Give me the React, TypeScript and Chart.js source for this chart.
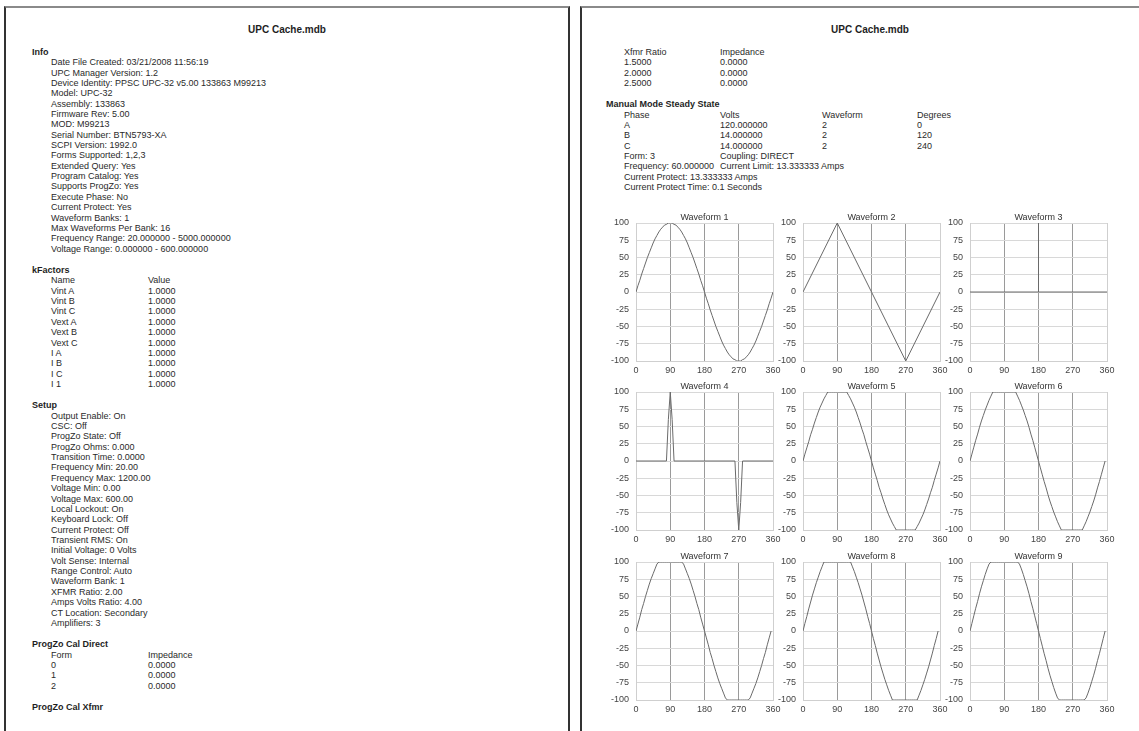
import React, { useEffect, useRef } from "react";
import { Chart, registerables } from "chart.js";
Chart.register(...registerables);

const FONT = "'Liberation Sans', Arial, sans-serif";

// ---------- Report text ----------
const INFO_ITEMS = [
  "Date File Created: 03/21/2008 11:56:19",
  "UPC Manager Version: 1.2",
  "Device Identity: PPSC UPC-32 v5.00 133863 M99213",
  "Model: UPC-32",
  "Assembly: 133863",
  "Firmware Rev: 5.00",
  "MOD: M99213",
  "Serial Number: BTN5793-XA",
  "SCPI Version: 1992.0",
  "Forms Supported: 1,2,3",
  "Extended Query: Yes",
  "Program Catalog: Yes",
  "Supports ProgZo: Yes",
  "Execute Phase: No",
  "Current Protect: Yes",
  "Waveform Banks: 1",
  "Max Waveforms Per Bank: 16",
  "Frequency Range: 20.000000 - 5000.000000",
  "Voltage Range: 0.000000 - 600.000000",
];
const KFACTOR_NAMES = ["Vint A", "Vint B", "Vint C", "Vext A", "Vext B", "Vext C", "I A", "I B", "I C", "I 1"];
const KFACTOR_VALUES = ["1.0000", "1.0000", "1.0000", "1.0000", "1.0000", "1.0000", "1.0000", "1.0000", "1.0000", "1.0000"];
const SETUP_ITEMS = [
  "Output Enable: On",
  "CSC: Off",
  "ProgZo State: Off",
  "ProgZo Ohms: 0.000",
  "Transition Time: 0.0000",
  "Frequency Min: 20.00",
  "Frequency Max: 1200.00",
  "Voltage Min: 0.00",
  "Voltage Max: 600.00",
  "Local Lockout: On",
  "Keyboard Lock: Off",
  "Current Protect: Off",
  "Transient RMS: On",
  "Initial Voltage: 0 Volts",
  "Volt Sense: Internal",
  "Range Control: Auto",
  "Waveform Bank: 1",
  "XFMR Ratio: 2.00",
  "Amps Volts Ratio: 4.00",
  "CT Location: Secondary",
  "Amplifiers: 3",
];
const PROGZO_FORMS = ["0", "1", "2"];
const PROGZO_IMPEDANCE = ["0.0000", "0.0000", "0.0000"];
const XFMR_RATIOS = ["1.5000", "2.0000", "2.5000"];
const XFMR_IMPEDANCE = ["0.0000", "0.0000", "0.0000"];
const PHASES = ["A", "B", "C"];
const PHASE_VOLTS = ["120.000000", "14.000000", "14.000000"];
const PHASE_WAVEFORMS = ["2", "2", "2"];
const PHASE_DEGREES = ["0", "120", "240"];

// ---------- Waveform data (degrees / percent) ----------
const DEG_5 = [0, 5, 10, 15, 20, 25, 30, 35, 40, 45, 50, 55, 60, 65, 70, 75, 80, 85, 90,
  95, 100, 105, 110, 115, 120, 125, 130, 135, 140, 145, 150, 155, 160, 165, 170, 175, 180,
  185, 190, 195, 200, 205, 210, 215, 220, 225, 230, 235, 240, 245, 250, 255, 260, 265, 270,
  275, 280, 285, 290, 295, 300, 305, 310, 315, 320, 325, 330, 335, 340, 345, 350, 355, 360];

const WAVE_1 = [0, 9, 17, 26, 34, 42, 50, 57, 64, 71, 77, 82, 87, 91, 94, 97, 98, 100, 100,
  100, 98, 97, 94, 91, 87, 82, 77, 71, 64, 57, 50, 42, 34, 26, 17, 9, 0,
  -9, -17, -26, -34, -42, -50, -57, -64, -71, -77, -82, -87, -91, -94, -97, -98, -100, -100,
  -100, -98, -97, -94, -91, -87, -82, -77, -71, -64, -57, -50, -42, -34, -26, -17, -9, 0];

const DEG_2 = [0, 90, 270, 360];
const WAVE_2 = [0, 100, -100, 0];

const DEG_3 = [0, 180, 180, 180, 360];
const WAVE_3 = [0, 0, 100, 0, 0];

const DEG_4 = [0, 80, 85, 90, 95, 100, 260, 265, 270, 275, 280, 360];
const WAVE_4 = [0, 0, 60, 100, 60, 0, 0, -60, -100, -60, 0, 0];

const WAVE_5 = [0, 10, 19, 28, 38, 46, 55, 63, 71, 78, 84, 90, 95, 100, 100, 100, 100, 100, 100,
  100, 100, 100, 100, 100, 95, 90, 84, 78, 71, 63, 55, 46, 38, 28, 19, 10, 0,
  -10, -19, -28, -38, -46, -55, -63, -71, -78, -84, -90, -95, -100, -100, -100, -100, -100, -100,
  -100, -100, -100, -100, -100, -95, -90, -84, -78, -71, -63, -55, -46, -38, -28, -19, -10, 0];

const WAVE_6 = [0, 10, 20, 30, 39, 49, 58, 66, 74, 81, 88, 94, 100, 100, 100, 100, 100, 100, 100,
  100, 100, 100, 100, 100, 100, 94, 88, 81, 74, 66, 58, 49, 39, 30, 20, 10, 0,
  -10, -20, -30, -39, -49, -58, -66, -74, -81, -88, -94, -100, -100, -100, -100, -100, -100,
  -100, -100, -100, -100, -100, -100, -94, -88, -81, -74, -66, -58, -49, -39, -30, -20, -10, 0];

const WAVE_7 = [0, 10, 20, 31, 40, 50, 59, 68, 76, 83, 90, 97, 100, 100, 100, 100, 100, 100, 100,
  100, 100, 100, 100, 100, 100, 97, 90, 83, 76, 68, 59, 50, 40, 31, 20, 10, 0,
  -10, -20, -31, -40, -50, -59, -68, -76, -83, -90, -97, -100, -100, -100, -100, -100, -100,
  -100, -100, -100, -100, -100, -100, -97, -90, -83, -76, -68, -59, -50, -40, -31, -20, -10, 0];

const WAVE_8 = [0, 11, 21, 32, 42, 52, 61, 70, 78, 86, 93, 100, 100, 100, 100, 100, 100, 100, 100,
  100, 100, 100, 100, 100, 100, 100, 93, 86, 78, 70, 61, 52, 42, 32, 21, 11, 0,
  -11, -21, -32, -42, -52, -61, -70, -78, -86, -93, -100, -100, -100, -100, -100, -100, -100,
  -100, -100, -100, -100, -100, -100, -100, -93, -86, -78, -70, -61, -52, -42, -32, -21, -11, 0];

const WAVE_9 = [0, 11, 22, 33, 43, 54, 64, 73, 82, 90, 97, 100, 100, 100, 100, 100, 100, 100, 100,
  100, 100, 100, 100, 100, 100, 100, 97, 90, 82, 73, 64, 54, 43, 33, 22, 11, 0,
  -11, -22, -33, -43, -54, -64, -73, -82, -90, -97, -100, -100, -100, -100, -100, -100, -100,
  -100, -100, -100, -100, -100, -100, -100, -97, -90, -82, -73, -64, -54, -43, -33, -22, -11, 0];

const WAVE_TITLES = ["Waveform 1", "Waveform 2", "Waveform 3", "Waveform 4", "Waveform 5",
  "Waveform 6", "Waveform 7", "Waveform 8", "Waveform 9"];
const WAVE_X = [DEG_5, DEG_2, DEG_3, DEG_4, DEG_5, DEG_5, DEG_5, DEG_5, DEG_5];
const WAVE_Y = [WAVE_1, WAVE_2, WAVE_3, WAVE_4, WAVE_5, WAVE_6, WAVE_7, WAVE_8, WAVE_9];
const X_TICKS = [0, 90, 180, 270, 360];
const Y_TICKS = [-100, -75, -50, -25, 0, 25, 50, 75, 100];

// ---------- Layout ----------
const CHART_COLS = [636, 803, 970];
const CHART_ROWS = [223, 392, 562];
const PLOT_W = 137;
const PLOT_H = 138;
const Y_AXIS_W = 30;
const TITLE_H = 13;
const X_AXIS_H = 16;
const PAD_R = 12;
const CANVAS_W = Y_AXIS_W + PLOT_W + PAD_R;
const CANVAS_H = TITLE_H + PLOT_H + X_AXIS_H;

const LH = 10.37;
const GAP = 11;
const TEXT_COLOR = "#2a2a2a";

function WaveChart(props: { title: string; xs: number[]; ys: number[]; left: number; top: number }) {
  const ref = useRef<HTMLCanvasElement>(null);
  useEffect(() => {
    const tickFont = { size: 9, family: FONT };
    const chart = new Chart(ref.current as HTMLCanvasElement, {
      type: "line",
      data: {
        datasets: [
          {
            data: props.xs.map((x, i) => ({ x, y: props.ys[i] })),
            borderColor: "#6a6a6a",
            borderWidth: 1,
            pointRadius: 0,
            fill: false,
            tension: 0,
          },
        ],
      },
      options: {
        animation: false,
        responsive: false,
        devicePixelRatio: 1,
        layout: { padding: { top: 0, left: 0, right: PAD_R, bottom: 0 } },
        plugins: {
          legend: { display: false },
          tooltip: { enabled: false },
          title: {
            display: true,
            text: props.title,
            fullSize: false,
            color: "#333",
            font: { size: 9, family: FONT, weight: "normal", lineHeight: "10px" },
            padding: { top: 3, bottom: 0 },
          },
        },
        scales: {
          x: {
            type: "linear",
            min: X_TICKS[0],
            max: X_TICKS[X_TICKS.length - 1],
            afterBuildTicks: (s: any) => {
              s.ticks = X_TICKS.map((v) => ({ value: v }));
            },
            ticks: { color: "#444", font: tickFont, padding: 4, maxRotation: 0, autoSkip: false },
            grid: {
              color: (c: any) =>
                c.tick && (c.tick.value === 0 || c.tick.value === 360) ? "#cfcfcf" : "#9a9a9a",
              drawTicks: false,
            },
            border: { color: "#cfcfcf" },
            afterFit: (s: any) => {
              s.height = X_AXIS_H;
            },
          },
          y: {
            type: "linear",
            min: Y_TICKS[0],
            max: Y_TICKS[Y_TICKS.length - 1],
            afterBuildTicks: (s: any) => {
              s.ticks = Y_TICKS.map((v) => ({ value: v }));
            },
            ticks: { color: "#444", font: tickFont, padding: 7, autoSkip: false },
            grid: { color: "#d8d8d8", drawTicks: false },
            border: { color: "#cfcfcf" },
            afterFit: (s: any) => {
              s.width = Y_AXIS_W;
            },
          },
        },
      } as any,
    });
    return () => chart.destroy();
  }, []);
  return (
    <canvas
      ref={ref}
      width={CANVAS_W}
      height={CANVAS_H}
      style={{
        position: "absolute",
        left: props.left - Y_AXIS_W,
        top: props.top - TITLE_H,
        width: CANVAS_W,
        height: CANVAS_H,
      }}
    />
  );
}

const lineStyle: React.CSSProperties = { height: LH, lineHeight: LH + "px", whiteSpace: "pre", position: "relative" };

function Heading(props: { text: string; left: number }) {
  return <div style={{ ...lineStyle, paddingLeft: props.left, fontWeight: "bold", color: "#1e1e1e" }}>{props.text}</div>;
}

function Row(props: { cells: string[]; cols: number[] }) {
  return (
    <div style={lineStyle}>
      {props.cells.map((c, i) => (
        <span key={i} style={{ position: "absolute", left: props.cols[i], top: 0 }}>
          {c}
        </span>
      ))}
    </div>
  );
}

function Gap() {
  return <div style={{ height: GAP }} />;
}

export default function App() {
  const L_HEAD = 32;
  const L_ITEM = 51;
  const L_COLS = [L_ITEM, 148];
  const R_HEAD = 606;
  const R_ITEM = 624;
  const R_COLS = [R_ITEM, 720, 822, 917];

  const blockTop = 52 - LH / 2;

  return (
    <div
      style={{
        position: "fixed",
        left: 0,
        top: 0,
        width: 1139,
        height: 731,
        overflow: "hidden",
        background: "#fff",
        fontFamily: FONT,
        fontSize: 9,
        color: TEXT_COLOR,
      }}
    >
      {/* Page frames */}
      <div
        style={{
          position: "absolute",
          left: 4,
          top: 6,
          width: 566,
          height: 800,
          boxSizing: "border-box",
          borderLeft: "2px solid #333",
          borderRight: "2px solid #333",
          borderTop: "2px solid #8a8a8a",
        }}
      />
      <div
        style={{
          position: "absolute",
          left: 580,
          top: 6,
          width: 600,
          height: 800,
          boxSizing: "border-box",
          borderLeft: "2px solid #333",
          borderTop: "2px solid #8a8a8a",
        }}
      />

      {/* Titles */}
      <div style={{ position: "absolute", left: 4, width: 566, top: 24, lineHeight: "12px", textAlign: "center", fontWeight: "bold", fontSize: 10, color: "#1e1e1e" }}>
        UPC Cache.mdb
      </div>
      <div style={{ position: "absolute", left: 580, width: 580, top: 24, lineHeight: "12px", textAlign: "center", fontWeight: "bold", fontSize: 10, color: "#1e1e1e" }}>
        UPC Cache.mdb
      </div>

      {/* Left page text */}
      <div style={{ position: "absolute", left: 0, top: blockTop, width: 560 }}>
        <Heading text="Info" left={L_HEAD} />
        {INFO_ITEMS.map((t, i) => (
          <Row key={"i" + i} cells={[t]} cols={L_COLS} />
        ))}
        <Gap />
        <Heading text="kFactors" left={L_HEAD} />
        <Row cells={["Name", "Value"]} cols={L_COLS} />
        {KFACTOR_NAMES.map((n, i) => (
          <Row key={"k" + i} cells={[n, KFACTOR_VALUES[i]]} cols={L_COLS} />
        ))}
        <Gap />
        <Heading text="Setup" left={L_HEAD} />
        {SETUP_ITEMS.map((t, i) => (
          <Row key={"s" + i} cells={[t]} cols={L_COLS} />
        ))}
        <Gap />
        <Heading text="ProgZo Cal Direct" left={L_HEAD} />
        <Row cells={["Form", "Impedance"]} cols={L_COLS} />
        {PROGZO_FORMS.map((f, i) => (
          <Row key={"p" + i} cells={[f, PROGZO_IMPEDANCE[i]]} cols={L_COLS} />
        ))}
        <Gap />
        <Heading text="ProgZo Cal Xfmr" left={L_HEAD} />
      </div>

      {/* Right page text */}
      <div style={{ position: "absolute", left: 0, top: blockTop, width: 1139 }}>
        <Row cells={["Xfmr Ratio", "Impedance"]} cols={R_COLS} />
        {XFMR_RATIOS.map((r, i) => (
          <Row key={"x" + i} cells={[r, XFMR_IMPEDANCE[i]]} cols={R_COLS} />
        ))}
        <Gap />
        <Heading text="Manual Mode Steady State" left={R_HEAD} />
        <Row cells={["Phase", "Volts", "Waveform", "Degrees"]} cols={R_COLS} />
        {PHASES.map((p, i) => (
          <Row key={"ph" + i} cells={[p, PHASE_VOLTS[i], PHASE_WAVEFORMS[i], PHASE_DEGREES[i]]} cols={R_COLS} />
        ))}
        <Row cells={["Form: 3", "Coupling: DIRECT"]} cols={R_COLS} />
        <Row cells={["Frequency: 60.000000", "Current Limit: 13.333333 Amps"]} cols={R_COLS} />
        <Row cells={["Current Protect: 13.333333 Amps"]} cols={R_COLS} />
        <Row cells={["Current Protect Time: 0.1 Seconds"]} cols={R_COLS} />
      </div>

      {/* Waveform charts */}
      {WAVE_TITLES.map((t, i) => (
        <WaveChart
          key={t}
          title={t}
          xs={WAVE_X[i]}
          ys={WAVE_Y[i]}
          left={CHART_COLS[i % 3]}
          top={CHART_ROWS[Math.floor(i / 3)]}
        />
      ))}
    </div>
  );
}
